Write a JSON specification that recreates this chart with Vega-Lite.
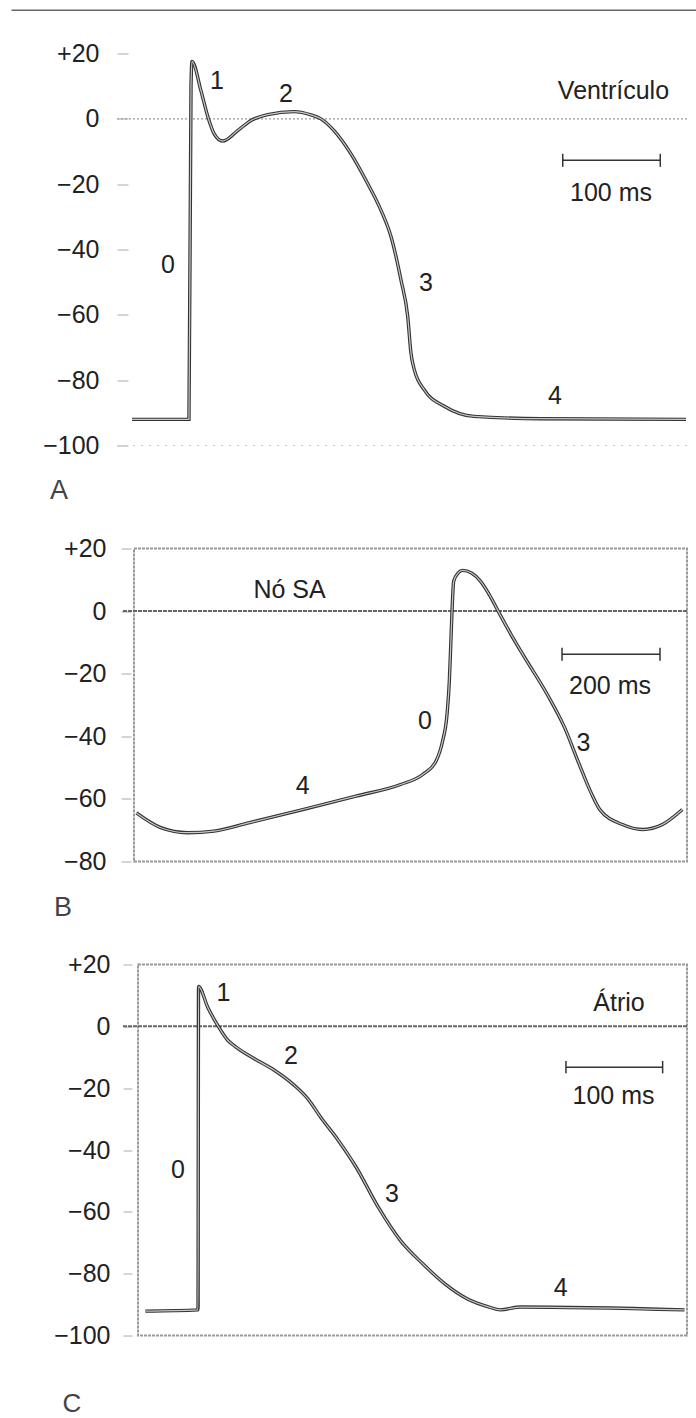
{
  "$schema": "https://vega.github.io/schema/vega-lite/v6.json",
  "padding": {"left": 10, "top": 8.5, "right": 0, "bottom": 2},
  "background": "white",
  "bounds": "flush",
  "spacing": 103,
  "config": {
    "view": {"stroke": null},
    "text": {"font": "Liberation Sans", "fontSize": 25, "color": "#222", "align": "center", "baseline": "alphabetic"},
    "axisY": {"title": null, "domain": false, "grid": false, "tickColor": "#aaa", "tickWidth": 1,
      "labelFont": "Liberation Sans", "labelFontSize": 25, "labelColor": "#222", "labelFlush": false, "labelOverlap": false, "labelBound": false}
  },
  "vconcat": [
    {
      "width": 555,
      "height": 392,
      "encoding": {
        "x": {"field": "t", "type": "quantitative", "scale": {"domain": [0, 569]}, "axis": null},
        "y": {"field": "v", "type": "quantitative", "scale": {"domain": [-100, 20]},
          "axis": {"values": [20, 0, -20, -40, -60, -80, -100], "labelExpr": "datum.value > 0 ? '+' + datum.label : datum.label",
            "tickSize": 11, "offset": 4, "labelPadding": 18}}
      },
      "layer": [
        {
          "data": {"values": [{"t": -123.5, "t2": 579.3, "v": 33.24}]},
          "mark": {"type": "rule", "color": "#666", "strokeWidth": 1.5},
          "encoding": {"x2": {"field": "t2"}}
        },
        {
          "data": {"values": [{"t": -15.4, "t2": 569, "v": 0}]},
          "mark": {"type": "rule", "color": "#999", "strokeWidth": 1.2, "strokeDash": [2, 2]},
          "encoding": {"x2": {"field": "t2"}}
        },
        {
          "data": {"values": [{"t": -15.4, "t2": 569, "v": -100}]},
          "mark": {"type": "rule", "color": "#c8c8c8", "strokeWidth": 1, "strokeDash": [2, 6]},
          "encoding": {"x2": {"field": "t2"}}
        },
        {
          "data": {"values": [
            {"t": 0, "v": -92}, {"t": 58.4, "v": -92}, {"t": 60.5, "v": 10}, {"t": 61.5, "v": 17.6},
            {"t": 70.7, "v": 8.6}, {"t": 77.9, "v": 0.5}, {"t": 84.1, "v": -4.5}, {"t": 93.0, "v": -6.8},
            {"t": 108.4, "v": -3.6}, {"t": 122.0, "v": -0.5}, {"t": 139.1, "v": 1.3}, {"t": 166.1, "v": 2.2},
            {"t": 183.5, "v": 1.2}, {"t": 193.7, "v": 0}, {"t": 207.1, "v": -3.6}, {"t": 224.5, "v": -10.7},
            {"t": 241.6, "v": -19.8}, {"t": 255.3, "v": -28}, {"t": 265.5, "v": -36}, {"t": 275.8, "v": -49.4},
            {"t": 282.7, "v": -60.6}, {"t": 286.0, "v": -71.7}, {"t": 289.4, "v": -76.8}, {"t": 299.7, "v": -83},
            {"t": 320.2, "v": -88}, {"t": 350.6, "v": -91.1}, {"t": 419.3, "v": -91.8}, {"t": 568, "v": -92}
          ]},
          "layer": [
            {"mark": {"type": "line", "color": "#333", "strokeWidth": 3.4, "interpolate": "monotone"}},
            {"mark": {"type": "line", "color": "#c8c8c8", "strokeWidth": 1.2, "interpolate": "monotone"}}
          ]
        },
        {
          "data": {"values": [{"t": 441.6, "t2": 541.6, "v": -12.7}]},
          "mark": {"type": "rule", "color": "#333", "strokeWidth": 1.5},
          "encoding": {"x2": {"field": "t2"}}
        },
        {
          "data": {"values": [{"t": 441.6, "v": -14.7, "v2": -10.7}, {"t": 541.6, "v": -14.7, "v2": -10.7}]},
          "mark": {"type": "rule", "color": "#333", "strokeWidth": 1.5},
          "encoding": {"y2": {"field": "v2"}}
        },
        {
          "data": {"values": [
            {"t": 87.0, "v": 9.0, "label": "1"}, {"t": 157.9, "v": 5.2, "label": "2"},
            {"t": 493.6, "v": 6.0, "label": "Ventrículo"}, {"t": 36.8, "v": -47.1, "label": "0"},
            {"t": 301.4, "v": -52.7, "label": "3"}, {"t": 433.7, "v": -87.4, "label": "4"},
            {"t": 491.1, "v": -25.2, "label": "100 ms"}
          ]},
          "mark": {"type": "text"},
          "encoding": {"text": {"field": "label"}}
        },
        {
          "data": {"values": [{"t": -74.8, "v": -116.4, "label": "A"}]},
          "mark": {"type": "text", "fontSize": 27, "color": "#444"},
          "encoding": {"text": {"field": "label"}}
        }
      ]
    },
    {
      "width": 555,
      "height": 313,
      "encoding": {
        "x": {"field": "t", "type": "quantitative", "scale": {"domain": [0, 1133]}, "axis": null},
        "y": {"field": "v", "type": "quantitative", "scale": {"domain": [-80, 20]},
          "axis": {"values": [20, 0, -20, -40, -60, -80], "labelExpr": "datum.value > 0 ? '+' + datum.label : datum.label",
            "tickSize": 10, "offset": 1, "labelPadding": 15}}
      },
      "layer": [
        {
          "data": {"values": [{"t": 4.1, "t2": 1133, "v": -80, "v2": 20}]},
          "mark": {"type": "rect", "fillOpacity": 0, "stroke": "#999", "strokeWidth": 2, "strokeDash": [3, 1]},
          "encoding": {"x2": {"field": "t2"}, "y2": {"field": "v2"}}
        },
        {
          "data": {"values": [{"t": -18.4, "t2": 1133, "v": 0}]},
          "mark": {"type": "rule", "color": "#666", "strokeWidth": 2, "strokeDash": [4, 1]},
          "encoding": {"x2": {"field": "t2"}}
        },
        {
          "data": {"values": [
            {"t": 9, "v": -64.5}, {"t": 58.8, "v": -69.2}, {"t": 113.1, "v": -70.8}, {"t": 167.4, "v": -70.3},
            {"t": 240.1, "v": -67.6}, {"t": 348.7, "v": -63.4}, {"t": 457.3, "v": -59.1}, {"t": 548.2, "v": -55.4},
            {"t": 593.5, "v": -52.2}, {"t": 620.7, "v": -47.9}, {"t": 634.1, "v": -41.5}, {"t": 643.1, "v": -33},
            {"t": 647.8, "v": -22.4}, {"t": 650.5, "v": -11.7}, {"t": 653.3, "v": 0}, {"t": 656.8, "v": 9.6},
            {"t": 666, "v": 12.2}, {"t": 675, "v": 13}, {"t": 693.1, "v": 12.2}, {"t": 711.3, "v": 9.6},
            {"t": 729.3, "v": 5.3}, {"t": 747.5, "v": 0}, {"t": 773.8, "v": -7.5}, {"t": 800.3, "v": -14.5},
            {"t": 847.3, "v": -26.5}, {"t": 883.4, "v": -37.3}, {"t": 910.6, "v": -48}, {"t": 937.1, "v": -58},
            {"t": 955.5, "v": -63.5}, {"t": 1001.2, "v": -68.2}, {"t": 1042.1, "v": -69.8}, {"t": 1082.7, "v": -68.2},
            {"t": 1123.5, "v": -63.4}
          ]},
          "layer": [
            {"mark": {"type": "line", "color": "#333", "strokeWidth": 3.4, "interpolate": "monotone"}},
            {"mark": {"type": "line", "color": "#c8c8c8", "strokeWidth": 1.2, "interpolate": "monotone"}}
          ]
        },
        {
          "data": {"values": [{"t": 877.9, "t2": 1077.9, "v": -13.8}]},
          "mark": {"type": "rule", "color": "#333", "strokeWidth": 1.5},
          "encoding": {"x2": {"field": "t2"}}
        },
        {
          "data": {"values": [{"t": 877.9, "v": -15.9, "v2": -11.7}, {"t": 1077.9, "v": -15.9, "v2": -11.7}]},
          "mark": {"type": "rule", "color": "#333", "strokeWidth": 1.5},
          "encoding": {"y2": {"field": "v2"}}
        },
        {
          "data": {"values": [
            {"t": 321.6, "v": 4.1, "label": "Nó SA"}, {"t": 597.8, "v": -37.8, "label": "0"},
            {"t": 348.7, "v": -58.5, "label": "4"}, {"t": 921.4, "v": -44.7, "label": "3"},
            {"t": 975.9, "v": -26.6, "label": "200 ms"}
          ]},
          "mark": {"type": "text"},
          "encoding": {"text": {"field": "label"}}
        },
        {
          "data": {"values": [{"t": -140.9, "v": -97.4, "label": "B"}]},
          "mark": {"type": "text", "fontSize": 27, "color": "#444"},
          "encoding": {"text": {"field": "label"}}
        }
      ]
    },
    {
      "width": 555,
      "height": 371,
      "encoding": {
        "x": {"field": "t", "type": "quantitative", "scale": {"domain": [0, 574]}, "axis": null},
        "y": {"field": "v", "type": "quantitative", "scale": {"domain": [-100, 20]},
          "axis": {"values": [20, 0, -20, -40, -60, -80, -100], "labelExpr": "datum.value > 0 ? '+' + datum.label : datum.label",
            "tickSize": 9, "offset": 0, "labelPadding": 13}}
      },
      "layer": [
        {
          "data": {"values": [{"t": 6.2, "t2": 574, "v": -100, "v2": 20}]},
          "mark": {"type": "rect", "fillOpacity": 0, "stroke": "#999", "strokeWidth": 2, "strokeDash": [3, 1]},
          "encoding": {"x2": {"field": "t2"}, "y2": {"field": "v2"}}
        },
        {
          "data": {"values": [{"t": -9.3, "t2": 574, "v": 0}]},
          "mark": {"type": "rule", "color": "#666", "strokeWidth": 2, "strokeDash": [4, 1]},
          "encoding": {"x2": {"field": "t2"}}
        },
        {
          "data": {"values": [
            {"t": 13.8, "v": -92.1}, {"t": 68.3, "v": -91.7}, {"t": 68.8, "v": 12.9}, {"t": 78.3, "v": 6.2},
            {"t": 88.6, "v": 0.3}, {"t": 99.0, "v": -4.5}, {"t": 107.6, "v": -6.7}, {"t": 126.5, "v": -10.5},
            {"t": 147.2, "v": -14.2}, {"t": 167.9, "v": -19.1}, {"t": 181.7, "v": -23.4}, {"t": 195.1, "v": -29.4},
            {"t": 213.4, "v": -36.9}, {"t": 231.7, "v": -45.5}, {"t": 254.7, "v": -58.5}, {"t": 277.7, "v": -69.3},
            {"t": 300.7, "v": -76.8}, {"t": 323.6, "v": -83.3}, {"t": 346.5, "v": -88.1}, {"t": 369.4, "v": -90.8},
            {"t": 380.9, "v": -91.7}, {"t": 401.6, "v": -90.8}, {"t": 571.4, "v": -91.7}
          ]},
          "layer": [
            {"mark": {"type": "line", "color": "#333", "strokeWidth": 3.4, "interpolate": "monotone"}},
            {"mark": {"type": "line", "color": "#c8c8c8", "strokeWidth": 1.2, "interpolate": "monotone"}}
          ]
        },
        {
          "data": {"values": [{"t": 448.8, "t2": 548.8, "v": -13.2}]},
          "mark": {"type": "rule", "color": "#333", "strokeWidth": 1.5},
          "encoding": {"x2": {"field": "t2"}}
        },
        {
          "data": {"values": [{"t": 448.8, "v": -15.2, "v2": -11.2}, {"t": 548.8, "v": -15.2, "v2": -11.2}]},
          "mark": {"type": "rule", "color": "#333", "strokeWidth": 1.5},
          "encoding": {"y2": {"field": "v2"}}
        },
        {
          "data": {"values": [
            {"t": 94.6, "v": 8.2, "label": "1"}, {"t": 164.4, "v": -12.3, "label": "2"},
            {"t": 503.7, "v": 4.9, "label": "Átrio"}, {"t": 498.0, "v": -25.2, "label": "100 ms"},
            {"t": 47.5, "v": -49.2, "label": "0"}, {"t": 268.9, "v": -56.7, "label": "3"},
            {"t": 443.4, "v": -87.2, "label": "4"}
          ]},
          "mark": {"type": "text"},
          "encoding": {"text": {"field": "label"}}
        },
        {
          "data": {"values": [{"t": -62.1, "v": -124.6, "label": "C"}]},
          "mark": {"type": "text", "fontSize": 26, "color": "#444"},
          "encoding": {"text": {"field": "label"}}
        }
      ]
    }
  ]
}
